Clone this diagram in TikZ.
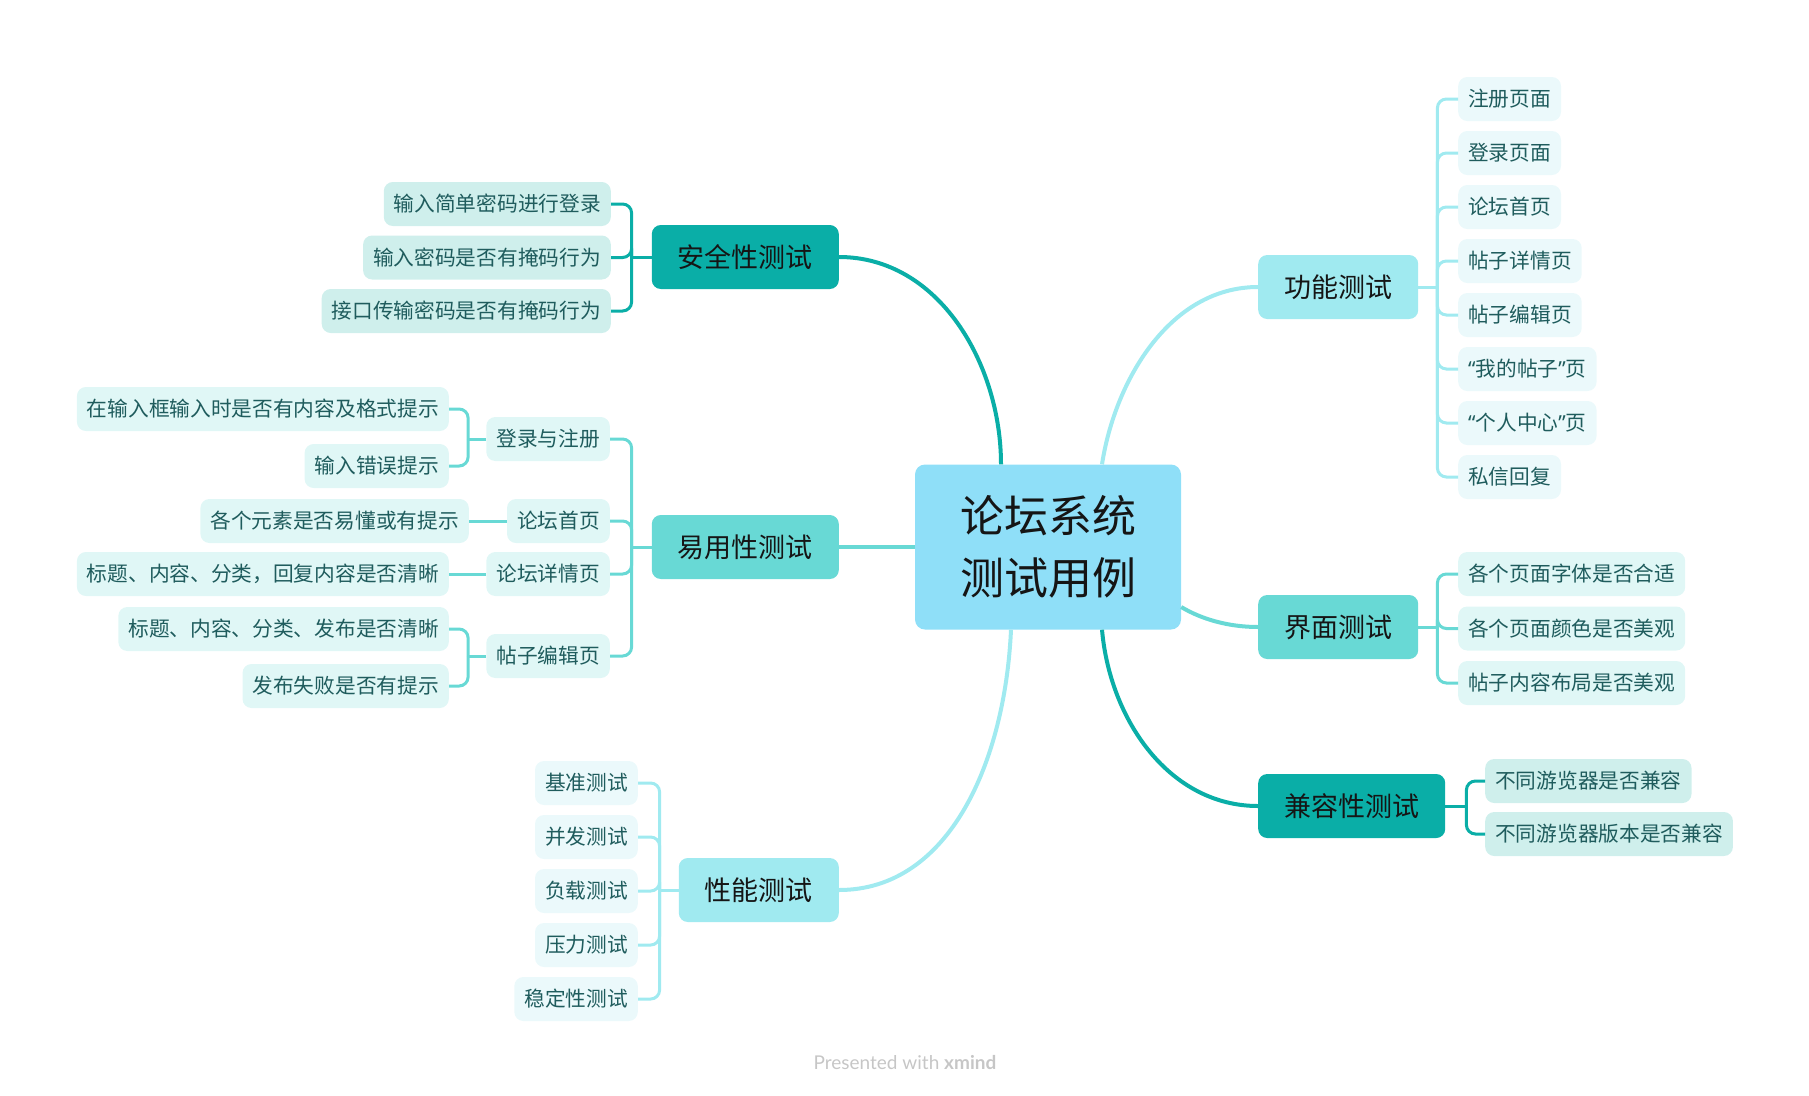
\documentclass[tikz,border=0pt]{standalone}
\usepackage{fontspec}
\setmainfont{Noto Sans CJK SC}
\newfontfamily\latinfont{Lato}
\newfontfamily\quotefont{Noto Sans}
\newcommand{\qopen}{{\quotefont “}}
\newcommand{\qclose}{{\quotefont ”}}
\usetikzlibrary{calc, positioning}
\definecolor{deepteal}{HTML}{0AAEA7}
\definecolor{midteal}{HTML}{68D9D5}
\definecolor{paleteal}{HTML}{A0EAF0}
\definecolor{sky}{HTML}{8FDFF8}
\definecolor{deepleaf}{HTML}{CFEFEC}
\definecolor{midleaf}{HTML}{E0F7F6}
\definecolor{paleleaf}{HTML}{EBF9FB}
\definecolor{leafink}{HTML}{1F5C5D}
\definecolor{topink}{HTML}{151515}
\definecolor{note}{HTML}{C6C6C6}
\tikzset{
  root/.style={fill=sky, rounded corners=10pt, minimum width=266pt, minimum height=165pt,
    align=center, text=topink, font=\fontsize{44}{62}\selectfont},
  topic/.style={fill=#1, rounded corners=9pt, minimum height=64pt, inner xsep=26pt,
    text=topink, font=\fontsize{27}{30}\selectfont},
  leaf/.style={fill=#1, rounded corners=9pt, minimum height=44pt, inner xsep=10pt,
    text=leafink, font=\fontsize{20.7}{24}\selectfont},
  trunk/.style={draw=#1, line width=4pt},
  twig/.style={draw=#1, line width=3pt, rounded corners=9pt},
}

\begin{document}
\begin{tikzpicture}[x=1pt, y=-1pt]
    \useasboundingbox (0,0) rectangle (1809,1095);
    % centre and main topics
    \node[root] (root) at (1048,547) {论坛系统\\测试用例};
    \node[topic=deepteal, anchor=east] (safe) at (839,257) {安全性测试};
    \node[topic=midteal, anchor=east] (easy) at (839,547) {易用性测试};
    \node[topic=paleteal, anchor=east] (perf) at (839,890) {性能测试};
    \node[topic=paleteal, anchor=west] (func) at (1258,287) {功能测试};
    \node[topic=midteal, anchor=west] (ui) at (1258,627) {界面测试};
    \node[topic=deepteal, anchor=west] (comp) at (1258,806) {兼容性测试};
    % trunks
    \draw[trunk=deepteal] (safe.east) .. controls +(100,0) and +(0,-100) .. ([xshift=-47pt]root.north);
    \draw[trunk=paleteal] ([xshift=54pt]root.north) .. controls +(13,-84) and +(-88,0) .. (func.west);
    \draw[trunk=midteal] (root.west) -- (easy.east);
    \draw[trunk=midteal] ($(root.east)+(0,60)$) .. controls +(20,12) and +(-30,0) .. (ui.west);
    \draw[trunk=deepteal] ([xshift=54pt]root.south) .. controls +(8,91) and +(-88,0) .. (comp.west);
    \draw[trunk=paleteal] ([xshift=-37pt]root.south) .. controls +(-6,131) and +(111,0) .. (perf.east);

    % security
    \foreach \t [count=\i, evaluate=\i as \yy using 204+53.5*(\i-1)] in
      {输入简单密码进行登录, 输入密码是否有掩码行为, 接口传输密码是否有掩码行为} {
      \node[leaf=deepleaf, anchor=east] (s\i) at (611,\yy) {\t};
      \draw[twig=deepteal] ([xshift=-20pt]safe.west) |- (s\i.east);
    }
    \draw[twig=deepteal] (safe.west) -- ++(-20,0);

    % usability
    \node[leaf=midleaf, anchor=east] (e1) at (610,439) {登录与注册};
    \node[leaf=midleaf, anchor=east] (e2) at (610,521) {论坛首页};
    \node[leaf=midleaf, anchor=east] (e3) at (610,574) {论坛详情页};
    \node[leaf=midleaf, anchor=east] (e4) at (610,656) {帖子编辑页};
    \node[leaf=midleaf, anchor=east] (e11) at (449,409) {在输入框输入时是否有内容及格式提示};
    \node[leaf=midleaf, anchor=east] (e12) at (449,466) {输入错误提示};
    \node[leaf=midleaf, anchor=east] (e21) at (469,521) {各个元素是否易懂或有提示};
    \node[leaf=midleaf, anchor=east] (e31) at (449,574) {标题、内容、分类，回复内容是否清晰};
    \node[leaf=midleaf, anchor=east] (e41) at (449,629) {标题、内容、分类、发布是否清晰};
    \node[leaf=midleaf, anchor=east] (e42) at (449,686) {发布失败是否有提示};
    \draw[twig=midteal] (easy.west) -- ++(-20,0);
    \foreach \i in {1,...,4}
      \draw[twig=midteal] ([xshift=-20pt]easy.west) |- (e\i.east);
    \draw[twig=midteal] (e1.west) -- ++(-18,0);
    \foreach \c in {e11,e12}
      \draw[twig=midteal] ([xshift=-18pt]e1.west) |- (\c.east);
    \draw[twig=midteal] (e2.west) -- (e21.east);
    \draw[twig=midteal] (e3.west) -- (e31.east);
    \draw[twig=midteal] (e4.west) -- ++(-18,0);
    \foreach \c in {e41,e42}
      \draw[twig=midteal] ([xshift=-18pt]e4.west) |- (\c.east);

    % performance
    \foreach \t [count=\i, evaluate=\i as \yy using 783+54*(\i-1)] in
      {基准测试, 并发测试, 负载测试, 压力测试, 稳定性测试} {
      \node[leaf=paleleaf, anchor=east] (p\i) at (638,\yy) {\t};
      \draw[twig=paleteal] ([xshift=-19pt]perf.west) |- (p\i.east);
    }
    \draw[twig=paleteal] (perf.west) -- ++(-19,0);

    % function
    \foreach \t [count=\i, evaluate=\i as \yy using 99+54*(\i-1)] in
      {注册页面, 登录页面, 论坛首页, 帖子详情页, 帖子编辑页,
       \qopen 我的帖子\qclose 页, \qopen 个人中心\qclose 页, 私信回复} {
      \node[leaf=paleleaf, anchor=west] (f\i) at (1458,\yy) {\t};
      \draw[twig=paleteal] ([xshift=19pt]func.east) |- (f\i.west);
    }
    \draw[twig=paleteal] (func.east) -- ++(19,0);

    % interface
    \foreach \t [count=\i, evaluate=\i as \yy using 574+54.5*(\i-1)] in
      {各个页面字体是否合适, 各个页面颜色是否美观, 帖子内容布局是否美观} {
      \node[leaf=midleaf, anchor=west] (u\i) at (1458,\yy) {\t};
      \draw[twig=midteal] ([xshift=19pt]ui.east) |- (u\i.west);
    }
    \draw[twig=midteal] (ui.east) -- ++(19,0);

    % compatibility
    \node[leaf=deepleaf, anchor=west] (c1) at (1485,781) {不同游览器是否兼容};
    \node[leaf=deepleaf, anchor=west] (c2) at (1485,834) {不同游览器版本是否兼容};
    \draw[twig=deepteal] (comp.east) -- ++(21,0);
    \foreach \c in {c1,c2}
      \draw[twig=deepteal] ([xshift=21pt]comp.east) |- (\c.west);

    \node[text=note, font=\latinfont\fontsize{19}{21}\selectfont] (credit) at (905,1063)
      {Presented with \textbf{xmind}};
\end{tikzpicture}
\end{document}
